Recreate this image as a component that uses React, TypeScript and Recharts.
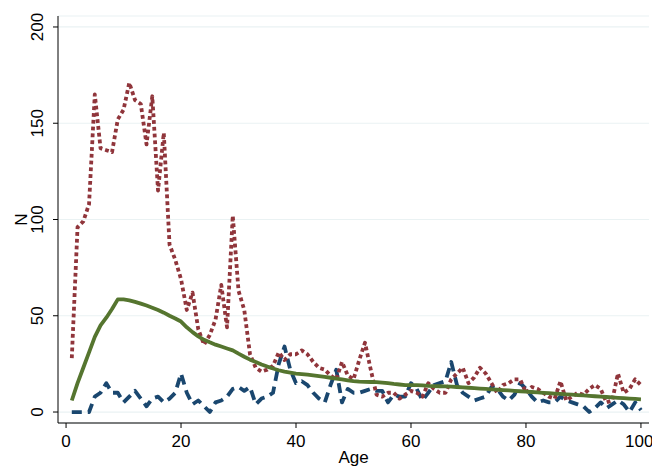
import { LineChart, Line, XAxis, YAxis, CartesianGrid } from "recharts";

const ages = [
  1, 2, 3, 4, 5, 6, 7, 8, 9, 10, 11, 12, 13, 14, 15, 16, 17, 18, 19, 20,
  21, 22, 23, 24, 25, 26, 27, 28, 29, 30, 31, 32, 33, 34, 35, 36, 37, 38, 39, 40,
  41, 42, 43, 44, 45, 46, 47, 48, 49, 50, 51, 52, 53, 54, 55, 56, 57, 58, 59, 60,
  61, 62, 63, 64, 65, 66, 67, 68, 69, 70, 71, 72, 73, 74, 75, 76, 77, 78, 79, 80,
  81, 82, 83, 84, 85, 86, 87, 88, 89, 90, 91, 92, 93, 94, 95, 96, 97, 98, 99, 100,
];

// dotted maroon series
const observed = [
  28, 96, 99, 108, 165, 137, 136, 135, 152, 157, 171, 162, 160, 139, 164, 115, 145, 87, 79, 69,
  53, 62, 43, 35, 40, 48, 66, 44, 102, 63, 53, 30, 23, 21, 22, 24, 31, 27, 30, 30,
  32, 30, 26, 23, 22, 19, 17, 26, 19, 17, 27, 36, 22, 9, 8, 10, 10, 7, 9, 11,
  10, 8, 15, 12, 10, 10, 17, 20, 23, 15, 18, 23, 20, 15, 10, 14, 15, 17, 17, 10,
  13, 12, 10, 8, 7, 16, 6, 8, 10, 9, 12, 14, 12, 5, 6, 20, 10, 12, 17, 14,
];

// dashed navy series
const reported = [
  0, 0, 0, 0, 8, 10, 15, 10, 10, 5, 8, 11, 7, 3, 7, 8, 5, 7, 10, 20,
  10, 4, 6, 3, 0, 5, 6, 8, 12, 13, 11, 13, 4, 7, 8, 10, 25, 34, 22, 15,
  16, 14, 10, 7, 5, 14, 22, 5, 12, 10, 10, 11, 12, 11, 11, 5, 9, 8, 8, 15,
  12, 6, 10, 14, 15, 16, 26, 14, 10, 8, 6, 7, 8, 13, 12, 8, 6, 9, 15, 12,
  8, 5, 6, 5, 5, 8, 6, 5, 4, 3, 0, 2, 5, 2, 4, 6, 4, 0, 5, 1,
];

// solid green smooth
const smoothed = [
  6, 15, 23, 31, 39, 45, 49, 53.5, 58.5, 58.5, 58, 57.2, 56.3, 55.3, 54.2, 53, 51.6, 50, 48.6, 47,
  44, 41.5, 39.3, 37.5, 36.2, 35, 34, 33, 32, 30.3, 28.7, 27.2, 26, 24.7, 23.6, 22.6, 21.7, 21, 20.5, 20,
  19.7, 19.4, 19, 18.6, 18.2, 17.8, 17.4, 17, 16.5, 16, 15.8, 15.7, 15.6, 15.5, 15.3, 15, 14.6, 14.3, 14, 14,
  14, 13.8, 13.6, 13.5, 13.4, 13.3, 13.2, 13, 12.8, 12.6, 12.4, 12.2, 12, 11.8, 11.6, 11.4, 11.2, 11, 10.8, 10.6,
  10.4, 10.2, 10, 9.8, 9.6, 9.4, 9.2, 9, 8.8, 8.6, 8.4, 8.2, 8, 7.8, 7.6, 7.4, 7.2, 7, 6.8, 6.6,
];

const xTicks = [0, 20, 40, 60, 80, 100];
const yTicks = [0, 50, 100, 150, 200];

const data = ages.map((age, i) => ({
  age,
  observed: observed[i],
  reported: reported[i],
  smoothed: smoothed[i],
}));

const font = "'Liberation Sans', Arial, Helvetica, sans-serif";

function YTick(props: any) {
  const { x, y, payload } = props;
  return (
    <text
      transform={`translate(${x - 8},${y}) rotate(-90)`}
      textAnchor="middle"
      fontSize={17}
      fill="#000"
      fontFamily={font}
    >
      {payload.value}
    </text>
  );
}

export default function App() {
  return (
    <div style={{ position: "absolute", left: 0, top: 0, background: "#fff" }}>
      <LineChart
        width={652}
        height={466}
        data={data}
        margin={{ top: 16, right: 3, left: 0, bottom: 0 }}
      >
        <CartesianGrid horizontal vertical={false} stroke="#eaf2f3" strokeWidth={1.2} />
        <XAxis
          type="number"
          dataKey="age"
          domain={[-1.4, 101.4]}
          ticks={xTicks}
          height={43}
          tickSize={5}
          tickMargin={7}
          stroke="#000"
          tick={{ fill: "#000", fontSize: 17, fontFamily: font }}
          label={{
            content: (p: any) => (
              <text
                x={p.viewBox.x + p.viewBox.width / 2}
                y={p.viewBox.y + 40}
                textAnchor="middle"
                fontSize={17}
                fill="#000"
                fontFamily={font}
              >
                Age
              </text>
            ),
          }}
        />
        <YAxis
          type="number"
          domain={[-5.7, 205.7]}
          ticks={yTicks}
          width={58}
          tickSize={5}
          stroke="#000"
          tick={<YTick />}
          label={{
            content: (p: any) => (
              <text
                transform={`translate(${p.viewBox.x + 27},${p.viewBox.y + p.viewBox.height / 2}) rotate(-90)`}
                textAnchor="middle"
                fontSize={17}
                fill="#000"
                fontFamily={font}
              >
                N
              </text>
            ),
          }}
        />
        <Line
          type="linear"
          dataKey="reported"
          stroke="#1a476f"
          strokeWidth={3.8}
          strokeDasharray="10 6"
          strokeLinejoin="round"
          dot={false}
          isAnimationActive={false}
        />
        <Line
          type="linear"
          dataKey="observed"
          stroke="#90353b"
          strokeWidth={3.8}
          strokeDasharray="3.8 3"
          strokeLinejoin="round"
          dot={false}
          isAnimationActive={false}
        />
        <Line
          type="linear"
          dataKey="smoothed"
          stroke="#55752f"
          strokeWidth={3.8}
          strokeLinejoin="round"
          dot={false}
          isAnimationActive={false}
        />
      </LineChart>
    </div>
  );
}
